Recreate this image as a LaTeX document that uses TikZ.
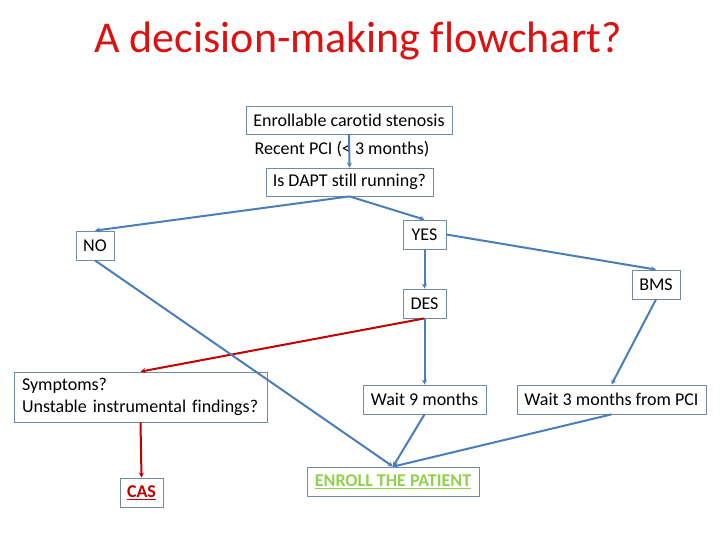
\documentclass[tikz,border=0pt]{standalone}
\usepackage{fontspec}
\setmainfont{Carlito}[Ligatures=NoCommon]
\usetikzlibrary{arrows.meta}
\definecolor{lineblue}{RGB}{74,126,187}
\definecolor{boxedge}{RGB}{110,140,170}
\definecolor{redline}{RGB}{192,0,0}
\definecolor{titlered}{RGB}{218,18,18}
\definecolor{greentxt}{RGB}{146,208,80}
\tikzset{
  box/.style={draw=boxedge, line width=0.8pt, fill=white, inner sep=0pt, font=\fontsize{18}{22}\selectfont, text=black},
  conn/.style={draw=lineblue, line width=2pt, -{Stealth[length=5pt,width=5pt]}},
  redconn/.style={draw=redline, line width=2pt, -{Stealth[length=5pt,width=5pt]}},
}
\begin{document}
\begin{tikzpicture}[x=1pt,y=-1pt]
\useasboundingbox (0,0) rectangle (720,540);
\node[font=\fontsize{44}{50}\selectfont, text=titlered] (title) at (358,41) {A decision-making flowchart?};
\node[box, minimum width=206pt, minimum height=28pt] (enr) at (349,120) {Enrollable carotid stenosis};
\node[box, minimum width=167pt, minimum height=28pt] (dapt) at (349.5,182) {Is DAPT still running?};
\node[font=\fontsize{18}{22}\selectfont, inner sep=0pt] (pci) at (342,149) {Recent PCI (< 3 months)};
\node[box, minimum width=38pt, minimum height=29pt] (no) at (95,245.5) {NO};
\node[box, minimum width=43pt, minimum height=29pt] (yes) at (424.5,234.5) {YES};
\node[box, minimum width=43pt, minimum height=29pt] (des) at (424.5,303.5) {DES};
\node[box, minimum width=48pt, minimum height=29pt] (bms) at (656,284.5) {BMS};
\node[box, minimum width=253pt, minimum height=50pt, align=left, text width=237pt] (sym) at (140.5,397) {Symptoms?\\Unstable instrumental findings?};
\node[box, minimum width=123pt, minimum height=29pt] (w9) at (424.5,399.5) {Wait 9 months};
\node[box, minimum width=189pt, minimum height=29pt] (w3) at (611.5,399.5) {Wait 3 months from PCI};
\node[box, minimum width=43pt, minimum height=29pt, text=redline, font=\fontsize{18}{22}\selectfont\bfseries] (cas) at (141.5,492.5) {\underline{CAS}};
\node[box, minimum width=172pt, minimum height=29pt, text=greentxt, font=\fontsize{18}{22}\selectfont\bfseries] (enroll) at (393,481.5) {\underline{ENROLL THE PATIENT}};
\draw[conn] (enr.south) -- (dapt.north);
\draw[conn] (dapt.south) -- (no.north);
\draw[conn] (dapt.south) -- (yes.north);
\draw[conn] (yes.east) -- (bms.north);
\draw[conn] (yes.south) -- (des.north);
\draw[redconn] (des.south) -- (sym.north);
\draw[conn] (des.south) -- (w9.north);
\draw[conn] (bms.south) -- (w3.north);
\draw[conn] (no.south) -- (enroll.north);
\draw[conn] (w9.south) -- (enroll.north);
\draw[conn] (w3.south) -- (enroll.north);
\draw[redconn] (sym.south) -- (cas.north);
\end{tikzpicture}
\end{document}
